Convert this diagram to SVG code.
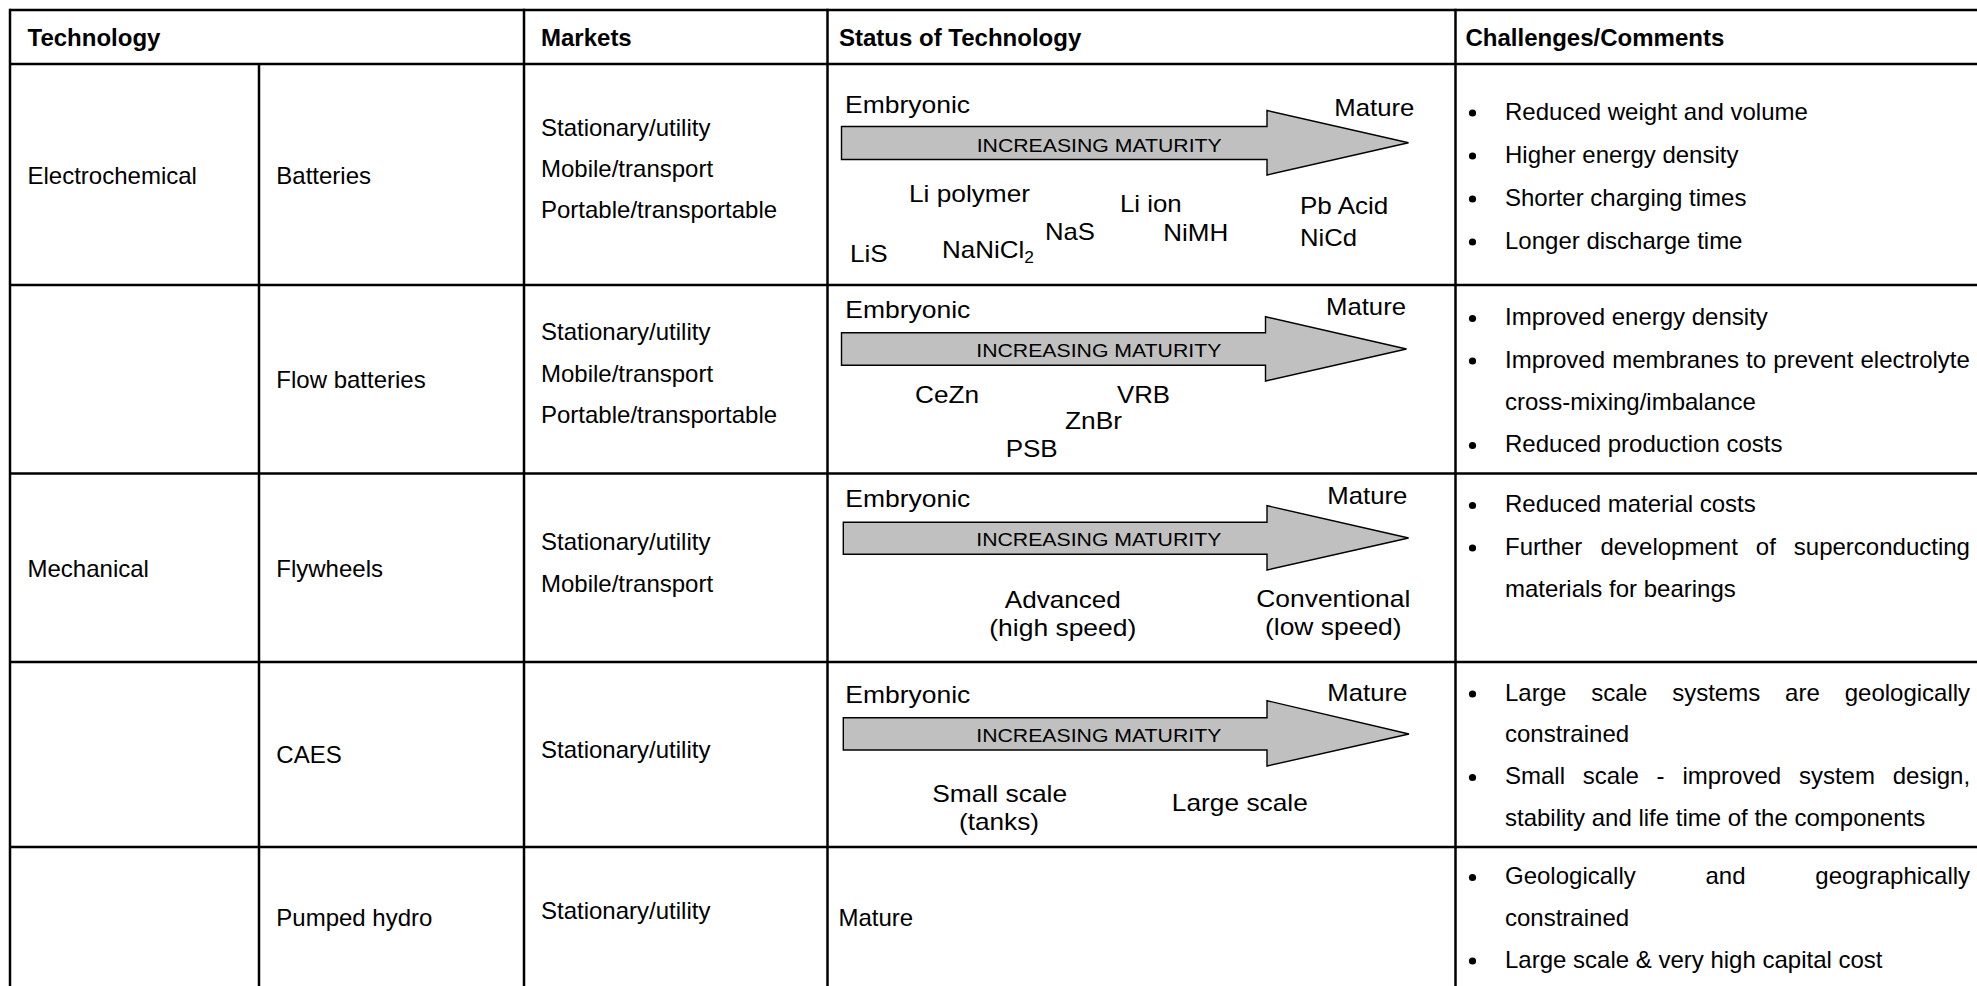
<svg xmlns="http://www.w3.org/2000/svg" width="1977" height="986" viewBox="0 0 1977 986">
  <style>
    text { font-family: "Liberation Sans", Arial, sans-serif; font-size: 24px; fill: #000; }
    .hd { font-weight: bold; }
    .lab { font-size: 24px; }
    .inc { font-size: 19px; }
    .sub { font-size: 16px; }
    .grid line { stroke: #000; stroke-width: 2.5; }
    .arrow { fill: #c0c0c0; stroke: #000; stroke-width: 1.4; stroke-linejoin: miter; }
    .dot { fill: #000; }
  </style>
  <rect x="0" y="0" width="1977" height="986" fill="#fff"/>

  <!-- table rules -->
  <g id="grid" class="grid">
    <line x1="10" y1="10" x2="1980" y2="10"/>
    <line x1="10" y1="64" x2="1980" y2="64"/>
    <line x1="10" y1="285" x2="1980" y2="285"/>
    <line x1="10" y1="473.5" x2="1980" y2="473.5"/>
    <line x1="10" y1="662" x2="1980" y2="662"/>
    <line x1="10" y1="847" x2="1980" y2="847"/>
    <line x1="10" y1="8.75" x2="10" y2="990"/>
    <line x1="259" y1="64" x2="259" y2="990"/>
    <line x1="524" y1="8.75" x2="524" y2="990"/>
    <line x1="827.5" y1="8.75" x2="827.5" y2="990"/>
    <line x1="1455.5" y1="8.75" x2="1455.5" y2="990"/>
  </g>

  <!-- header row -->
  <g id="header">
    <text class="hd" x="27.5" y="46">Technology</text>
    <text class="hd" x="541" y="46">Markets</text>
    <text class="hd" x="839" y="46">Status of Technology</text>
    <text class="hd" x="1465.5" y="46">Challenges/Comments</text>
  </g>

  <!-- row 1: batteries -->
  <g id="row-batteries">
    <text x="27.5" y="184">Electrochemical</text>
    <text x="276.3" y="184">Batteries</text>
    <text x="541" y="135.5">Stationary/utility</text>
    <text x="541" y="176.7">Mobile/transport</text>
    <text x="541" y="218">Portable/transportable</text>
    <g id="status-batteries">
      <polygon class="arrow" points="841.5,126.5 1267,126.5 1267,110.5 1408.5,142.8 1267,175 1267,159.5 841.5,159.5"/>
      <text class="lab" x="845" y="113.3" textLength="125" lengthAdjust="spacingAndGlyphs">Embryonic</text>
      <text class="lab" x="1334.3" y="115.7" textLength="80" lengthAdjust="spacingAndGlyphs">Mature</text>
      <text class="inc" x="976.7" y="151.7" textLength="245" lengthAdjust="spacingAndGlyphs">INCREASING MATURITY</text>
      <text class="lab" x="909" y="201.7" textLength="121" lengthAdjust="spacingAndGlyphs">Li polymer</text>
      <text class="lab" x="1120" y="211.7" textLength="61.7" lengthAdjust="spacingAndGlyphs">Li ion</text>
      <text class="lab" x="1300" y="213.5" textLength="88.3" lengthAdjust="spacingAndGlyphs">Pb Acid</text>
      <text class="lab" x="1045" y="240" textLength="50" lengthAdjust="spacingAndGlyphs">NaS</text>
      <text class="lab" x="1163.3" y="240.7" textLength="65" lengthAdjust="spacingAndGlyphs">NiMH</text>
      <text class="lab" x="1300" y="245.5" textLength="57" lengthAdjust="spacingAndGlyphs">NiCd</text>
      <text class="lab" x="850" y="261.7" textLength="37.7" lengthAdjust="spacingAndGlyphs">LiS</text>
      <text class="lab" x="942" y="258.3" textLength="92" lengthAdjust="spacingAndGlyphs">NaNiCl<tspan class="sub" dy="4.5">2</tspan></text>
    </g>
    <g id="notes-batteries">
      <circle class="dot" cx="1472.5" cy="113" r="3.6"/>
      <text x="1505" y="119.5">Reduced weight and volume</text>
      <circle class="dot" cx="1472.5" cy="156" r="3.6"/>
      <text x="1505" y="162.5">Higher energy density</text>
      <circle class="dot" cx="1472.5" cy="199" r="3.6"/>
      <text x="1505" y="205.5">Shorter charging times</text>
      <circle class="dot" cx="1472.5" cy="242" r="3.6"/>
      <text x="1505" y="248.5">Longer discharge time</text>
    </g>
  </g>

  <!-- row 2: flow batteries -->
  <g id="row-flow">
    <text x="276.3" y="388.3">Flow batteries</text>
    <text x="541" y="340">Stationary/utility</text>
    <text x="541" y="381.7">Mobile/transport</text>
    <text x="541" y="423">Portable/transportable</text>
    <g id="status-flow">
      <polygon class="arrow" points="841.5,332.7 1265.5,332.7 1265.5,316.7 1406.5,349 1265.5,381 1265.5,365.3 841.5,365.3"/>
      <text class="lab" x="845.3" y="318.3" textLength="125" lengthAdjust="spacingAndGlyphs">Embryonic</text>
      <text class="lab" x="1326" y="315" textLength="80" lengthAdjust="spacingAndGlyphs">Mature</text>
      <text class="inc" x="976.3" y="357.3" textLength="245" lengthAdjust="spacingAndGlyphs">INCREASING MATURITY</text>
      <text class="lab" x="915" y="403.3" textLength="64" lengthAdjust="spacingAndGlyphs">CeZn</text>
      <text class="lab" x="1117" y="403.3" textLength="53" lengthAdjust="spacingAndGlyphs">VRB</text>
      <text class="lab" x="1065" y="429" textLength="57" lengthAdjust="spacingAndGlyphs">ZnBr</text>
      <text class="lab" x="1005.7" y="457.3" textLength="52" lengthAdjust="spacingAndGlyphs">PSB</text>
    </g>
    <g id="notes-flow">
      <circle class="dot" cx="1472.5" cy="318.5" r="3.6"/>
      <text x="1505" y="325">Improved energy density</text>
      <circle class="dot" cx="1472.5" cy="361" r="3.6"/>
      <text y="367.5"><tspan x="1505">Improved</tspan> <tspan x="1612.2">membranes</tspan> <tspan x="1746.1">to</tspan> <tspan x="1773.3">prevent</tspan> <tspan x="1860.5">electrolyte</tspan></text>
      <text x="1505" y="410">cross-mixing/imbalance</text>
      <circle class="dot" cx="1472.5" cy="445.5" r="3.6"/>
      <text x="1505" y="452">Reduced production costs</text>
    </g>
  </g>

  <!-- row 3: flywheels -->
  <g id="row-flywheels">
    <text x="27.5" y="577">Mechanical</text>
    <text x="276.3" y="577">Flywheels</text>
    <text x="541" y="550.3">Stationary/utility</text>
    <text x="541" y="591.7">Mobile/transport</text>
    <g id="status-flywheels">
      <polygon class="arrow" points="843.3,522.3 1267,522.3 1267,505.7 1408.6,538 1267,570 1267,554.3 843.3,554.3"/>
      <text class="lab" x="845.3" y="506.7" textLength="125" lengthAdjust="spacingAndGlyphs">Embryonic</text>
      <text class="lab" x="1327.3" y="504" textLength="80" lengthAdjust="spacingAndGlyphs">Mature</text>
      <text class="inc" x="976.3" y="545.7" textLength="245" lengthAdjust="spacingAndGlyphs">INCREASING MATURITY</text>
      <text class="lab" x="1004.8" y="608.3" textLength="116" lengthAdjust="spacingAndGlyphs">Advanced</text>
      <text class="lab" x="989.3" y="636.3" textLength="147" lengthAdjust="spacingAndGlyphs">(high speed)</text>
      <text class="lab" x="1256.3" y="606.7" textLength="154" lengthAdjust="spacingAndGlyphs">Conventional</text>
      <text class="lab" x="1265" y="635" textLength="136.6" lengthAdjust="spacingAndGlyphs">(low speed)</text>
    </g>
    <g id="notes-flywheels">
      <circle class="dot" cx="1472.5" cy="505.5" r="3.6"/>
      <text x="1505" y="512">Reduced material costs</text>
      <circle class="dot" cx="1472.5" cy="548" r="3.6"/>
      <text y="554.5"><tspan x="1505">Further</tspan> <tspan x="1600.4">development</tspan> <tspan x="1755.8">of</tspan> <tspan x="1793.8">superconducting</tspan></text>
      <text x="1505" y="597">materials for bearings</text>
    </g>
  </g>

  <!-- row 4: compressed air -->
  <g id="row-caes">
    <text x="276.3" y="762.7">CAES</text>
    <text x="541" y="757.5">Stationary/utility</text>
    <g id="status-caes">
      <polygon class="arrow" points="843.3,717.7 1267,717.7 1267,700.7 1409,734 1267,766 1267,750 843.3,750"/>
      <text class="lab" x="845.3" y="702.7" textLength="125" lengthAdjust="spacingAndGlyphs">Embryonic</text>
      <text class="lab" x="1327.3" y="700.7" textLength="80" lengthAdjust="spacingAndGlyphs">Mature</text>
      <text class="inc" x="976.3" y="741.7" textLength="245" lengthAdjust="spacingAndGlyphs">INCREASING MATURITY</text>
      <text class="lab" x="932.2" y="801.7" textLength="135" lengthAdjust="spacingAndGlyphs">Small scale</text>
      <text class="lab" x="959" y="830" textLength="80" lengthAdjust="spacingAndGlyphs">(tanks)</text>
      <text class="lab" x="1171.8" y="810.7" textLength="136" lengthAdjust="spacingAndGlyphs">Large scale</text>
    </g>
    <g id="notes-caes">
      <circle class="dot" cx="1472.5" cy="694" r="3.6"/>
      <text y="700.5"><tspan x="1505">Large</tspan> <tspan x="1591.3">scale</tspan> <tspan x="1672.2">systems</tspan> <tspan x="1785.1">are</tspan> <tspan x="1844.7">geologically</tspan></text>
      <text x="1505" y="742">constrained</text>
      <circle class="dot" cx="1472.5" cy="777.5" r="3.6"/>
      <text y="784"><tspan x="1505">Small</tspan> <tspan x="1582.8">scale</tspan> <tspan x="1656.6">-</tspan> <tspan x="1682.4">improved</tspan> <tspan x="1798.9">system</tspan> <tspan x="1892.7">design,</tspan></text>
      <text x="1505" y="826">stability and life time of the components</text>
    </g>
  </g>

  <!-- row 5: pumped hydro -->
  <g id="row-hydro">
    <text x="276.3" y="926.3">Pumped hydro</text>
    <text x="541" y="919.3">Stationary/utility</text>
    <text x="838.4" y="926">Mature</text>
    <g id="notes-hydro">
      <circle class="dot" cx="1472.5" cy="877.5" r="3.6"/>
      <text y="884"><tspan x="1505">Geologically</tspan> <tspan x="1705.5">and</tspan> <tspan x="1815.3">geographically</tspan></text>
      <text x="1505" y="926">constrained</text>
      <circle class="dot" cx="1472.5" cy="961" r="3.6"/>
      <text x="1505" y="967.5">Large scale &amp; very high capital cost</text>
    </g>
  </g>
</svg>
